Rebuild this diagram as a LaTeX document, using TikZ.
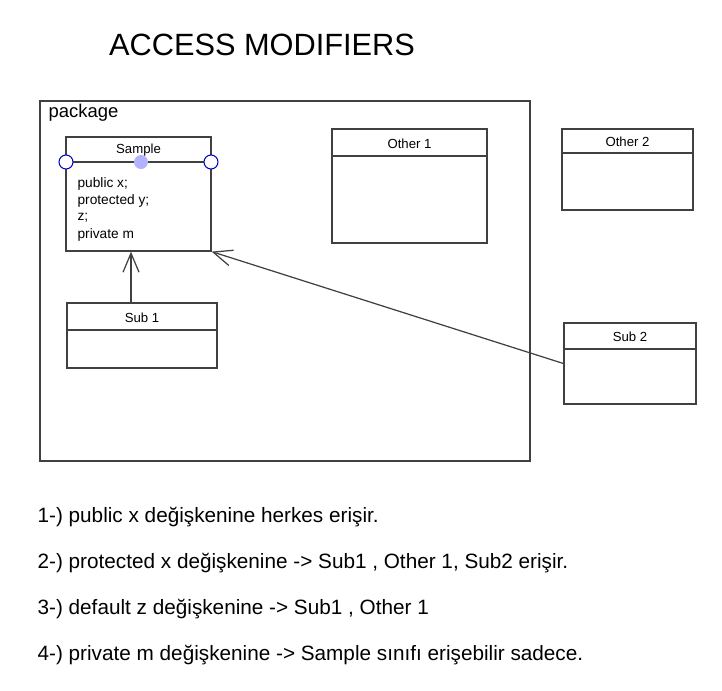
\documentclass[tikz,border=0pt]{standalone}
\usepackage{fontspec}
\setmainfont{Liberation Sans}
\usetikzlibrary{arrows.meta,fit}

\begin{document}
\begin{tikzpicture}[x=0.02cm,y=-0.02cm,line width=0.7pt]
      \tikzstyle{cls} = [draw=black!75,inner sep=0pt]
      \tikzstyle{clsname} = [font=\fontsize{7.5}{9}\selectfont]
      \tikzstyle{field} = [font=\fontsize{7.8}{9}\selectfont,anchor=west,inner sep=0pt]
      \tikzstyle{dot} = [draw=blue!75!black,fill=white,circle,inner sep=0pt,minimum size=0.28cm,line width=0.6pt]
      \tikzstyle{note} = [font=\fontsize{11.8}{14}\selectfont,anchor=west,inner sep=0pt]
      \tikzstyle{inh} = [draw=black!75,-{Straight Barb[length=3.8mm,width=3.2mm]}]

      \useasboundingbox (0,0) rectangle (722,690);

      \node[font=\fontsize{17.5}{21}\selectfont](title) at (262,45) {ACCESS MODIFIERS};

      % package frame
      \node[cls,fit={(40,101) (530,461)}](pkg) {};
      \node[anchor=north west,inner sep=0pt,font=\fontsize{10.5}{12}\selectfont](pkgname) at (48,104) {package};

      % class boxes
      \foreach \n/\t/\xa/\ya/\xb/\yb/\yh in
      {smp/Sample/66/137/211/251/162,
       oth1/Other 1/332/129/487/243/156,
       oth2/Other 2/562/129/693/210/153,
       sub1/Sub 1/67/303/217/368/330,
       sub2/Sub 2/564/323/696/404/349} {
        \node[cls,fit={(\xa,\ya) (\xb,\yb)}](\n) {};
        \draw[black!75] (\xa,\yh) -- (\xb,\yh);
        \node[clsname](\n name) at ({(\xa+\xb)/2},{(\ya+\yh)/2+1}) {\t};
      }

      \node[dot](hl) at (66,162) {};
      \node[dot](hr) at (211,162) {};
      \node[dot,draw=none,fill=blue!30!white](hm) at (141,162) {};

      \node[field](f1) at (77,184) {public x;};
      \node[field](f2) at (77,201) {protected y;};
      \node[field](f3) at (77,218) {z;};
      \node[field](f4) at (77,235) {private m};

      \draw[inh] (sub1.north -| 131,0) -- (smp.south -| 131,0);
      \draw[inh] (sub2.west) -- (smp.south east);

      % notes
      \foreach \t [count=\i from 0,
      evaluate= \i as \y using {517+46*\i}] in
      {{1-) public x değişkenine herkes erişir.},
       {2-) protected x değişkenine -> Sub1 , Other 1, Sub2 erişir.},
       {3-) default z değişkenine -> Sub1 , Other 1},
       {4-) private m değişkenine -> Sample sınıfı erişebilir sadece.}} {
        \node[note](n\i) at (37,\y) {\t};
      }

    \end{tikzpicture}
\end{document}
